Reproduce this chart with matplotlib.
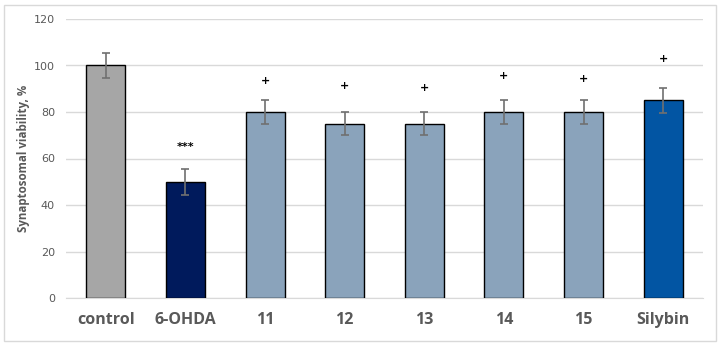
import matplotlib.pyplot as plt
from matplotlib.patches import Rectangle

labels = ['control', '6-OHDA', '11', '12', '13', '14', '15', 'Silybin']
values = [100, 50, 80, 75, 75, 80, 80, 85]
errors = [5.5, 5.5, 5, 5, 5, 5, 5, 5.5]
colors = ['#a6a6a6', '#001a5c', '#8aa3bb', '#8aa3bb', '#8aa3bb', '#8aa3bb', '#8aa3bb', '#0255a3']
# significance marks: text and height
marks = ['', '***', '+', '+', '+', '+', '+', '+']
mark_y = [0, 65, 93.5, 91, 90.5, 95.5, 94, 103]

fig = plt.figure(figsize=(7.21, 3.47), dpi=100)
fig.patches.append(Rectangle((0.006, 0.017), 0.987, 0.968, transform=fig.transFigure,
                             fill=False, edgecolor='#d9d9d9', linewidth=1))
ax = fig.add_axes([66 / 721, 49 / 347, 637 / 721, 279 / 347])

x = range(len(labels))
ax.bar(x, values, width=0.49, color=colors, edgecolor='black', linewidth=1, zorder=3)
ax.errorbar(x, values, yerr=errors, fmt='none', ecolor='#707070', elinewidth=1.2,
            capsize=3, capthick=1.2, zorder=4)
for xi, m, my in zip(x, marks, mark_y):
    if m:
        ax.text(xi, my, m, ha='center', va='center', fontsize=8,
                fontweight='bold', color='black')

ax.set_xlim(-0.5, len(labels) - 0.5)
ax.set_ylim(0, 120)
ax.set_yticks(range(0, 121, 20))
ax.yaxis.grid(True, color='#d9d9d9', linewidth=1, zorder=0)
for s in ['top', 'right', 'left']:
    ax.spines[s].set_visible(False)
ax.spines['bottom'].set_color('#d9d9d9')
ax.tick_params(axis='both', length=0)
ax.tick_params(axis='y', labelsize=8, labelcolor='#595959', pad=8)
ax.set_xticks(list(x))
ax.set_xticklabels(labels, fontsize=11.5, fontweight='bold', color='#595959', family='Open Sans')
ax.tick_params(axis='x', pad=10)
ax.set_ylabel('Synaptosomal viability, %', fontsize=8.3, fontweight='bold', color='#595959',
              family='Open Sans', labelpad=3)

fig.savefig('out.png', dpi=100)
